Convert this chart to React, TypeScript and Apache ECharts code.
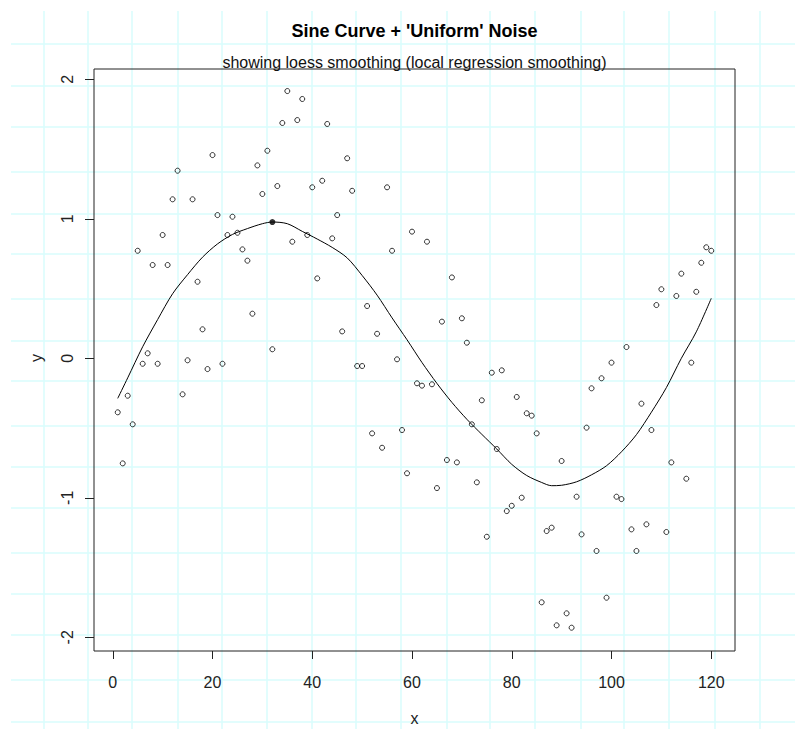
import React, { useEffect, useRef } from "react";
import * as echarts from "echarts";

// ---- data ----
const X_VALUES = [
  1, 2, 3, 4, 5, 6, 7, 8, 9, 10, 11, 12, 13, 14, 15, 16, 17, 18, 19, 20,
  21, 22, 23, 24, 25, 26, 27, 28, 29, 30, 31, 32, 33, 34, 35, 36, 37, 38, 39, 40,
  41, 42, 43, 44, 45, 46, 47, 48, 49, 50, 51, 52, 53, 54, 55, 56, 57, 58, 59, 60,
  61, 62, 63, 64, 65, 66, 67, 68, 69, 70, 71, 72, 73, 74, 75, 76, 77, 78, 79, 80,
  81, 82, 83, 84, 85, 86, 87, 88, 89, 90, 91, 92, 93, 94, 95, 96, 97, 98, 99, 100,
  101, 102, 103, 104, 105, 106, 107, 108, 109, 110, 111, 112, 113, 114, 115, 116, 117, 118, 119, 120,
];
const Y_VALUES = [
  -0.387, -0.753, -0.268, -0.473, 0.771, -0.039, 0.036, 0.669, -0.039, 0.884,
  0.669, 1.14, 1.345, -0.258, -0.014, 1.14, 0.549, 0.208, -0.077, 1.457,
  1.027, -0.039, 0.884, 1.015, 0.9, 0.781, 0.7, 0.32, 1.383, 1.178,
  1.488, 0.065, 1.235, 1.687, 1.916, 0.836, 1.708, 1.859, 0.884, 1.226,
  0.573, 1.273, 1.68, 0.86, 1.027, 0.193, 1.434, 1.201, -0.055, -0.055,
  0.375, -0.538, 0.176, -0.641, 1.226, 0.771, -0.007, -0.514, -0.824, 0.908,
  -0.179, -0.196, 0.836, -0.186, -0.93, 0.263, -0.729, 0.58, -0.746, 0.287,
  0.112, -0.473, -0.889, -0.301, -1.279, -0.103, -0.65, -0.086, -1.095, -1.057,
  -0.277, -0.999, -0.394, -0.411, -0.538, -1.749, -1.238, -1.214, -1.914, -0.736,
  -1.828, -1.931, -0.992, -1.262, -0.497, -0.215, -1.381, -0.143, -1.716, -0.031,
  -0.992, -1.009, 0.081, -1.226, -1.381, -0.325, -1.19, -0.514, 0.382, 0.495,
  -1.245, -0.746, 0.447, 0.607, -0.863, -0.031, 0.477, 0.685, 0.796, 0.771,
];
const LOESS_X = [
  1, 3, 6, 9, 12, 15, 18, 21, 24, 27, 30, 32, 35, 38, 41, 44, 47, 50, 53, 56, 59,
  62, 65, 68, 71, 74, 77, 80, 83, 86, 88, 90, 93, 96, 99, 102, 105, 108, 111, 114, 117, 120,
];
const LOESS_Y = [
  -0.287, -0.14, 0.083, 0.278, 0.463, 0.6, 0.725, 0.82, 0.888, 0.93, 0.965, 0.977, 0.965, 0.91,
  0.855, 0.795, 0.72, 0.594, 0.453, 0.29, 0.133, -0.03, -0.18, -0.316, -0.437, -0.545, -0.65,
  -0.76, -0.84, -0.89, -0.913, -0.91, -0.885, -0.835, -0.77, -0.67, -0.547, -0.386, -0.21, 0.0, 0.19, 0.43,
];
const PEAK_POINT = [32, 0.977];
const X_TICKS = [0, 20, 40, 60, 80, 100, 120];
const Y_TICKS = [-2, -1, 0, 1, 2];
const TITLE = "Sine Curve + 'Uniform' Noise";
const SUBTITLE = "showing loess smoothing (local regression smoothing)";
const X_NAME = "x";
const Y_NAME = "y";

// ---- decorative background paper grid (pixel positions) ----
const PAPER_X = [44, 88, 132, 178, 222, 267, 312, 356, 401, 447, 490, 535, 581, 624, 669, 715, 760];
const PAPER_Y = [44, 86, 127, 172, 214, 254, 299, 341, 381, 426, 467, 508, 553, 594, 635, 680, 722];

const FONT = "'Liberation Sans', Arial, Helvetica, sans-serif";

export default function App() {
  const ref = useRef<HTMLDivElement>(null);

  useEffect(() => {
    if (!ref.current) return;
    const chart = echarts.init(ref.current, undefined, { renderer: "svg" });

    const paper: any[] = [];
    PAPER_X.forEach((x) =>
      paper.push({
        type: "line",
        z: -10,
        silent: true,
        shape: { x1: x, y1: 11, x2: x, y2: 729 },
        style: { stroke: "#d8fdfd", lineWidth: 1.5 },
      })
    );
    PAPER_Y.forEach((y) =>
      paper.push({
        type: "line",
        z: -10,
        silent: true,
        shape: { x1: 11, y1: y, x2: 795, y2: y },
        style: { stroke: "#d8fdfd", lineWidth: 1.5 },
      })
    );

    const option: any = {
      animation: false,
      backgroundColor: "#ffffff",
      grid: {
        left: 94,
        right: 60,
        top: 69,
        bottom: 78,
        show: true,
        borderColor: "#222",
        borderWidth: 1,
        backgroundColor: "transparent",
        z: 1,
      },
      xAxis: {
        type: "value",
        position: "bottom",
        min: -3.76,
        max: 124.76,
        splitLine: { show: false },
        axisLine: { show: false, onZero: false },
        axisTick: {
          show: true,
          inside: false,
          customValues: X_TICKS,
          length: 8,
          lineStyle: { color: "#222", width: 1 },
        },
        axisLabel: {
          customValues: X_TICKS,
          fontSize: 16,
          fontFamily: FONT,
          color: "#222",
          margin: 23,
        },
      },
      yAxis: {
        type: "value",
        position: "left",
        min: -2.098,
        max: 2.074,
        splitLine: { show: false },
        axisLine: { show: false, onZero: false },
        axisTick: {
          show: true,
          inside: false,
          customValues: Y_TICKS,
          length: 9,
          lineStyle: { color: "#222", width: 1 },
        },
        axisLabel: {
          customValues: Y_TICKS,
          fontSize: 16,
          fontFamily: FONT,
          color: "#222",
          rotate: 90,
          margin: 19,
        },
      },
      series: [
        {
          type: "scatter",
          data: X_VALUES.map((x, i) => [x, Y_VALUES[i]]),
          symbol: "circle",
          symbolSize: 5,
          itemStyle: { color: "rgba(0,0,0,0)", borderColor: "#000", borderWidth: 1 },
          silent: true,
          z: 3,
        },
        {
          type: "line",
          data: LOESS_X.map((x, i) => [x, LOESS_Y[i]]),
          smooth: 0.3,
          showSymbol: false,
          symbol: "none",
          lineStyle: { color: "#000", width: 1 },
          silent: true,
          z: 4,
        },
        {
          type: "scatter",
          data: [PEAK_POINT],
          symbol: "circle",
          symbolSize: 6,
          itemStyle: { color: "#000" },
          silent: true,
          z: 5,
        },
      ],
      graphic: [
        ...paper,
        {
          type: "text",
          x: 414.5,
          y: 30.5,
          style: {
            text: TITLE,
            fontFamily: FONT,
            fontSize: 18,
            fontWeight: "bold",
            fill: "#000",
            textAlign: "center",
            textVerticalAlign: "middle",
          },
        },
        {
          type: "text",
          x: 414.5,
          y: 62,
          style: {
            text: SUBTITLE,
            fontFamily: FONT,
            fontSize: 16,
            fill: "#111",
            textAlign: "center",
            textVerticalAlign: "middle",
          },
        },
        {
          type: "text",
          x: 414.5,
          y: 718,
          style: {
            text: X_NAME,
            fontFamily: FONT,
            fontSize: 16,
            fill: "#222",
            textAlign: "center",
            textVerticalAlign: "middle",
          },
        },
        {
          type: "text",
          x: 36,
          y: 358,
          rotation: Math.PI / 2,
          style: {
            text: Y_NAME,
            fontFamily: FONT,
            fontSize: 16,
            fill: "#222",
            textAlign: "center",
            textVerticalAlign: "middle",
          },
        },
      ],
    };

    chart.setOption(option);
    return () => chart.dispose();
  }, []);

  return (
    <div
      ref={ref}
      style={{ position: "absolute", left: 0, top: 0, width: 795, height: 729, background: "#fff" }}
    />
  );
}
